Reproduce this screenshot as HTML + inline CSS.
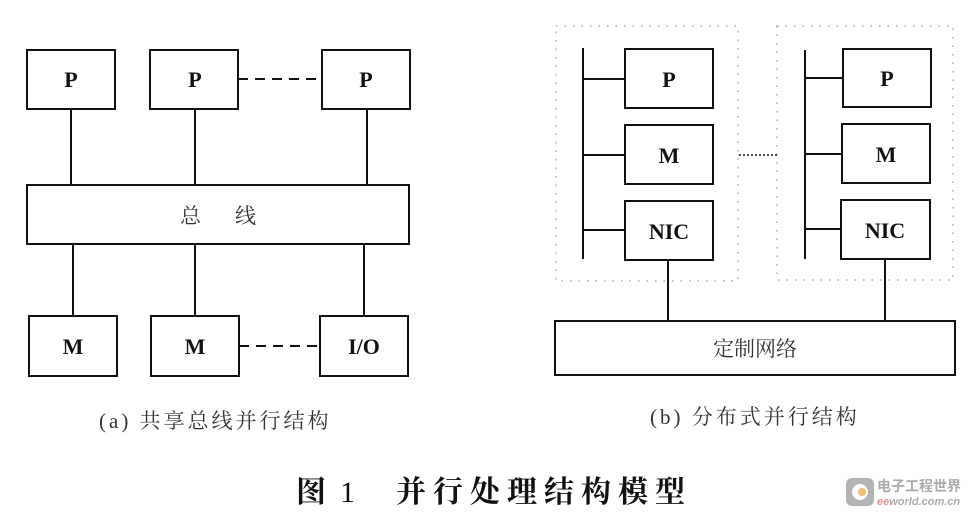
<!DOCTYPE html>
<html><head><meta charset="utf-8"><style>
html,body{margin:0;padding:0;background:#fff;}
body{width:969px;height:516px;overflow:hidden;position:relative;}
svg{position:absolute;left:0;top:0;}
</style></head><body>
<svg width="969" height="516" viewBox="0 0 969 516" xmlns="http://www.w3.org/2000/svg">
<g fill="#fff" stroke="#111" stroke-width="2">
<rect x="27" y="50" width="88" height="59"/>
<rect x="150" y="50" width="88" height="59"/>
<rect x="322" y="50" width="88" height="59"/>
<rect x="27" y="185" width="382" height="59"/>
<rect x="29" y="316" width="88" height="60"/>
<rect x="151" y="316" width="88" height="60"/>
<rect x="320" y="316" width="88" height="60"/>
<line x1="71" y1="109" x2="71" y2="185"/>
<line x1="195" y1="109" x2="195" y2="185"/>
<line x1="367" y1="109" x2="367" y2="185"/>
<line x1="73" y1="244" x2="73" y2="316"/>
<line x1="195" y1="244" x2="195" y2="316"/>
<line x1="364" y1="244" x2="364" y2="316"/>
<line x1="238" y1="79" x2="322" y2="79" stroke-dasharray="10,7"/>
<line x1="239" y1="346" x2="320" y2="346" stroke-dasharray="10,7"/>

<rect x="556" y="26" width="182" height="255" fill="none" stroke="#999" stroke-width="1.2" stroke-dasharray="1.5,7"/>
<rect x="777" y="26" width="176" height="254" fill="none" stroke="#999" stroke-width="1.2" stroke-dasharray="1.5,7"/>
<line x1="583" y1="48" x2="583" y2="259"/>
<line x1="805" y1="50" x2="805" y2="259"/>
<rect x="625" y="49" width="88" height="59"/>
<rect x="625" y="125" width="88" height="59"/>
<rect x="625" y="201" width="88" height="59"/>
<rect x="843" y="49" width="88" height="58"/>
<rect x="842" y="124" width="88" height="59"/>
<rect x="841" y="200" width="89" height="59"/>
<line x1="583" y1="79" x2="625" y2="79"/>
<line x1="583" y1="155" x2="625" y2="155"/>
<line x1="583" y1="230" x2="625" y2="230"/>
<line x1="805" y1="78" x2="843" y2="78"/>
<line x1="805" y1="154" x2="842" y2="154"/>
<line x1="805" y1="229" x2="841" y2="229"/>
<line x1="739" y1="155" x2="777" y2="155" stroke-width="1.5" stroke-dasharray="2,2"/>
<rect x="555" y="321" width="400" height="54"/>
<line x1="668" y1="260" x2="668" y2="321"/>
<line x1="885" y1="259" x2="885" y2="321"/>
</g>
<g font-family="Liberation Serif, serif" font-size="22" fill="#111" text-anchor="middle" font-weight="bold">
<text x="71" y="87">P</text>
<text x="195" y="87">P</text>
<text x="366" y="87">P</text>
<text x="73" y="354">M</text>
<text x="195" y="354">M</text>
<text x="364" y="354">I/O</text>
<text x="669" y="87">P</text>
<text x="669" y="163">M</text>
<text x="669" y="239">NIC</text>
<text x="887" y="86">P</text>
<text x="886" y="162">M</text>
<text x="885" y="238">NIC</text>
</g>
<g font-family="Liberation Serif, 'Noto Serif CJK SC', serif" fill="#333">
<text x="180" y="223" font-size="21">总</text>
<text x="235" y="223" font-size="21">线</text>
<text x="755" y="356" font-size="21" text-anchor="middle">定制网络</text>
<text x="99" y="428" font-size="21" letter-spacing="3">(a) 共享总线并行结构</text>
<text x="650" y="424" font-size="21" letter-spacing="3">(b) 分布式并行结构</text>
</g>
<g font-family="'Noto Serif CJK SC', serif" fill="#111" font-size="30" font-weight="bold">
<text x="296" y="502">图</text>
<text x="340" y="502" font-family="Liberation Serif, serif" font-weight="normal">1</text>
<text x="396" y="502" letter-spacing="7">并行处理结构模型</text>
</g>
<g opacity="0.55">
<rect x="846" y="478" width="28" height="28" rx="6" fill="#777"/>
<circle cx="860" cy="492" r="8" fill="#fff"/>
<circle cx="862" cy="492" r="4" fill="#e80"/>
<text x="877" y="491" font-family="'Noto Sans CJK SC', sans-serif" font-size="14" font-weight="bold" fill="#666">电子工程世界</text>
<text x="877" y="505" font-family="Liberation Sans, sans-serif" font-size="11" font-style="italic" font-weight="bold" fill="#c33">ee<tspan fill="#666">world.com.cn</tspan></text>
</g>
</svg>
</body></html>
